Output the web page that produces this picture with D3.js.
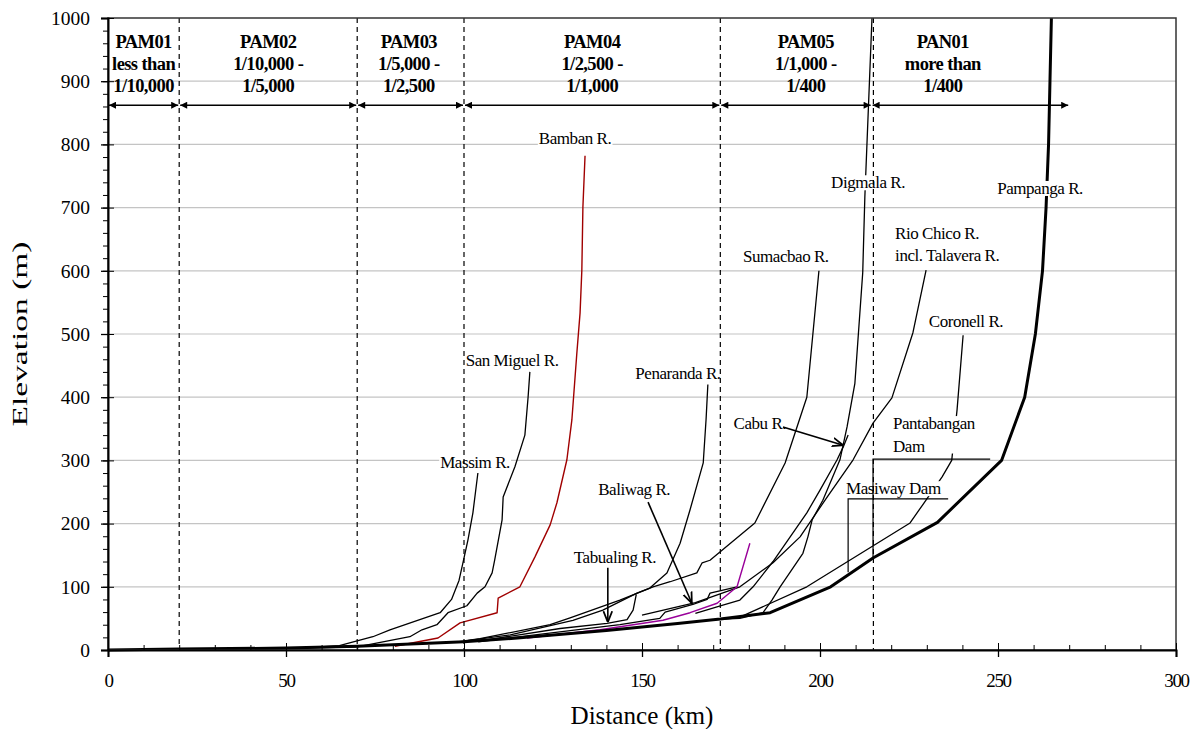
<!DOCTYPE html>
<html><head><meta charset="utf-8">
<script src="https://cdn.jsdelivr.net/npm/d3@7"></script>
<style>
body{margin:0;background:#fff;}
text{font-family:"Liberation Serif","Times New Roman",serif;}
</style></head>
<body><svg id="c" width="1202" height="729"></svg>
<script>
// ---------------- DATA ----------------
const xTicks = [0, 50, 100, 150, 200, 250, 300];
const yTicks = [0, 100, 200, 300, 400, 500, 600, 700, 800, 900, 1000];

const zoneBounds = [0, 20, 70, 100, 172, 214.5, 270];
const zoneCenters = [10, 45, 84.5, 136, 196, 234.5];
const zoneNames = ["PAM01", "PAM02", "PAM03", "PAM04", "PAM05", "PAN01"];
const zoneLine2 = ["less than", "1/10,000 -", "1/5,000 -", "1/2,500 -", "1/1,000 -", "more than"];
const zoneLine3 = ["1/10,000", "1/5,000", "1/2,500", "1/1,000", "1/400", "1/400"];
const zoneDashes = [20, 70, 100, 172, 215];

const pampanga = [[0,0],[20,1.5],[50,3],[70,6],[100,13],[115,19],[140,31],[160,42],[172,49],[186,59],[203,100],[215,146],[233,202],[251,300],[257.5,400],[260.5,500],[262.5,600],[263.5,700],[264.2,800],[264.6,900],[265,1000]];
const massim = [[54,3],[65,7],[74.4,21],[79.2,32],[93.3,59],[96.5,80],[98.6,110],[99.7,138],[101.1,174],[102.5,217],[103.9,280]];
const sanMiguel = [[55,3],[70,5],[84.8,21],[88.2,32],[92.4,40],[95.5,59],[100.8,70],[103.7,90],[105.9,100],[107.9,122],[108.6,142],[110.7,206],[111,242],[114.3,290],[117.1,340],[118,400],[118.5,440]];
const bamban = [[80.6,6],[92.7,19],[98.9,43],[109.3,59],[109.6,82],[115.7,100],[119.9,147],[124.2,198],[126.1,233],[128.9,301],[130.3,364],[131.7,470],[132.6,533],[133.1,601],[133.4,701],[134,782]];
const sumacbao = [[98,13],[104.5,18],[124.2,40],[129.8,51],[143.8,79],[153.1,100],[157.9,108],[165.4,122],[166.9,138],[169.1,142],[181.7,201],[190.2,296],[196.3,400],[199.7,600]];
const penaranda = [[100,14],[113,24],[130.6,47],[139,63],[148.6,90],[152.2,98],[157,122],[160.7,169],[163.5,222],[167.2,296],[168,365],[168.5,420]];
const tabualing = [[104,14],[127,34],[140.2,42],[145.8,48],[147.5,63],[148.4,88]];
const baliwag = [[104,13],[143.8,40],[155,50],[156.5,60],[164.3,72],[168.3,80],[169.1,90],[176.7,100]];
const purpleRiver = [[117.7,19],[138.2,32],[155.9,47],[163.5,59],[171.1,74],[176.7,100],[180.3,169]];
const cabu = [[165,58],[172,70],[177.5,79],[181.2,100],[186.8,140],[196.3,217],[200,253],[204.8,301],[206.5,321],[207.9,340]];
const rioChico = [[150,55],[165,75],[177.5,100],[186.8,138],[194.4,179],[202,242],[209.3,301],[214.9,359],[220.2,399],[226.1,502],[229.8,601]];
const digmala = [[170,48],[177.5,50],[184,59],[186.5,79],[188.8,100],[195.2,153],[196.6,179],[197.8,206],[200.8,237],[205.6,301],[207.6,353],[209.8,422],[212,597],[212.6,717],[214.6,1000]];
const coronell = [[172,49],[177.5,52],[196.3,100],[225.3,201],[229,231],[234.3,274],[237,300],[238.5,380],[240.2,498]];

const riverLabels = [
  {t:["Bamban R."], x:131.2, y:810, a:"middle"},
  {t:["San Miguel R."], x:113.5, y:459, a:"middle"},
  {t:["Massim R."], x:103.1, y:297, a:"middle"},
  {t:["Penaranda R."], x:160.1, y:438, a:"middle"},
  {t:["Baliwag R."], x:147.8, y:255, a:"middle"},
  {t:["Tabualing R."], x:142.4, y:147, a:"middle"},
  {t:["Cabu R."], x:183.1, y:359, a:"middle"},
  {t:["Sumacbao R."], x:190.4, y:623, a:"middle"},
  {t:["Digmala R."], x:213.5, y:740, a:"middle"},
  {t:["Rio Chico R.", "incl. Talavera R."], x:221.1, y:660, a:"start"},
  {t:["Coronell R."], x:241, y:520, a:"middle"},
  {t:["Pantabangan", "Dam"], x:220.5, y:359, a:"start"},
  {t:["Masiway Dam"], x:207.3, y:256, a:"start"},
  {t:["Pampanga R."], x:261.8, y:731, a:"middle"}
];
const callouts = [
  [[140.4,130],[140.4,44]],
  [[151.7,234],[164,74]],
  [[189.6,353],[206.5,324]]
];
const brackets = [
  [[236,239],[207.9,239],[207.9,123]],
  [[247.8,302],[214.9,302],[214.9,146]]
];

// ---------------- DRAW ----------------
const svg = d3.select("#c");
const L = 108, R = 1176, T = 18, B = 650;
const x = d3.scaleLinear([0,300],[L,R]);
const y = d3.scaleLinear([0,1000],[B,T]);

const defs = svg.append("defs");
defs.append("marker").attr("id","ah").attr("viewBox","0 0 10 10").attr("refX",10).attr("refY",5)
  .attr("markerWidth",8).attr("markerHeight",7).attr("markerUnits","userSpaceOnUse").attr("orient","auto-start-reverse")
  .append("path").attr("d","M0,0L10,5L0,10z").attr("fill","#000");
defs.append("marker").attr("id","oa").attr("viewBox","0 0 10 10").attr("refX",10).attr("refY",5)
  .attr("markerWidth",11).attr("markerHeight",11).attr("markerUnits","userSpaceOnUse").attr("orient","auto")
  .append("path").attr("d","M0,1L10,5L0,9").attr("fill","none").attr("stroke","#000").attr("stroke-width",1.6);

// grid
svg.append("g").selectAll("line").data(yTicks.filter(v=>v>0&&v<1000)).join("line")
  .attr("x1",L).attr("x2",R).attr("y1",d=>y(d)).attr("y2",d=>y(d))
  .attr("stroke","#c4c4c4").attr("stroke-width",1.2);

// rivers
const line = d3.line().x(d=>x(d[0])).y(d=>y(d[1]));
const rivers = [
  {d:massim,c:"#000",w:1.3},{d:sanMiguel,c:"#000",w:1.3},{d:bamban,c:"#a00000",w:1.4},
  {d:sumacbao,c:"#000",w:1.3},{d:penaranda,c:"#000",w:1.3},{d:tabualing,c:"#000",w:1.3},
  {d:baliwag,c:"#000",w:1.3},{d:cabu,c:"#000",w:1.3},{d:rioChico,c:"#000",w:1.3},
  {d:digmala,c:"#000",w:1.3},{d:coronell,c:"#000",w:1.3},{d:purpleRiver,c:"#990099",w:1.4},
  {d:pampanga,c:"#000",w:3}
];
svg.append("g").selectAll("path").data(rivers).join("path")
  .attr("d",r=>line(r.d)).attr("fill","none").attr("stroke",r=>r.c).attr("stroke-width",r=>r.w)
  .attr("stroke-linejoin","round");

// river labels with white background
const lg = svg.append("g");
riverLabels.forEach(l=>{
  const g = lg.append("g");
  const t = g.append("text").attr("x",x(l.x)).attr("y",y(l.y)).attr("text-anchor",l.a)
    .attr("font-size",17).attr("letter-spacing","-0.45").attr("fill","#000");
  l.t.forEach((s,i)=>t.append("tspan").attr("x",x(l.x)).attr("dy",i===0?"0.35em":"1.32em").text(s));
  const bb = t.node().getBBox();
  g.insert("rect","text").attr("x",bb.x-1).attr("y",bb.y+2).attr("width",bb.width+2).attr("height",bb.height-4).attr("fill","#fff");
});

// zone dashed lines
svg.append("g").selectAll("line").data(zoneDashes).join("line")
  .attr("x1",d=>x(d)).attr("x2",d=>x(d)).attr("y1",T).attr("y2",B)
  .attr("stroke","#000").attr("stroke-width",1.2).attr("stroke-dasharray","5,4");

// callout arrows
svg.append("g").selectAll("path").data(callouts).join("path")
  .attr("d",d=>line(d)).attr("fill","none").attr("stroke","#000").attr("stroke-width",1.6)
  .attr("marker-end","url(#oa)");
// dam brackets
svg.append("g").selectAll("path").data(brackets).join("path")
  .attr("d",d=>line(d)).attr("fill","none").attr("stroke","#000").attr("stroke-width",1.2);

// zone arrows
const arrowY = 862;
const zg = svg.append("g");
for(let i=0;i<zoneBounds.length-1;i++){
  zg.append("line").attr("x1",x(zoneBounds[i])+1).attr("x2",x(zoneBounds[i+1])-1)
    .attr("y1",y(arrowY)).attr("y2",y(arrowY)).attr("stroke","#000").attr("stroke-width",1.4)
    .attr("marker-start","url(#ah)").attr("marker-end","url(#ah)");
}
// zone text
const zt = svg.append("g").attr("font-weight","bold").attr("font-size",18.5).attr("text-anchor","middle").attr("letter-spacing","-0.6");
zoneNames.forEach((n,i)=>{
  const cx = x(zoneCenters[i]);
  zt.append("text").attr("x",cx).attr("y",48).text(n);
  zt.append("text").attr("x",cx).attr("y",70).text(zoneLine2[i]);
  zt.append("text").attr("x",cx).attr("y",92).text(zoneLine3[i]);
});

// frame
svg.append("rect").attr("x",L).attr("y",T).attr("width",R-L).attr("height",B-T)
  .attr("fill","none").attr("stroke","#333").attr("stroke-width",1.5);

// axes
const axL = svg.append("g").attr("transform",`translate(${L},0)`)
  .call(d3.axisLeft(y).tickValues(yTicks).tickFormat(d3.format("d")).tickSize(7).tickPadding(11));
axL.selectAll("text").attr("font-size",19.5).attr("font-family","Liberation Serif").attr("fill","#000");
axL.select(".domain").attr("stroke-width",2);
axL.selectAll(".tick line").attr("stroke-width",1.3);
svg.append("g").attr("transform",`translate(${L},0)`)
  .call(d3.axisRight(y).tickValues(yTicks).tickSize(6).tickFormat(""))
  .call(g=>g.select(".domain").remove());
svg.append("g").attr("transform",`translate(${L},0)`)
  .call(d3.axisLeft(y).tickValues(d3.range(0,1001,20)).tickSize(5).tickFormat(""))
  .call(g=>g.select(".domain").remove());

const axB = svg.append("g").attr("transform",`translate(0,${B})`)
  .call(d3.axisBottom(x).tickValues(xTicks).tickFormat(d3.format("d")).tickSize(7).tickPadding(17));
axB.selectAll("text").attr("font-size",19).attr("font-family","Liberation Serif").attr("letter-spacing","-1.3").attr("fill","#000");
axB.select(".domain").attr("stroke-width",2);
axB.selectAll(".tick line").attr("stroke-width",1.3);
svg.append("g").attr("transform",`translate(0,${B})`)
  .call(d3.axisTop(x).tickValues(xTicks).tickSize(7).tickFormat(""))
  .call(g=>g.select(".domain").remove());
svg.append("g").attr("transform",`translate(0,${B})`)
  .call(d3.axisTop(x).tickValues(d3.range(0,301,10)).tickSize(5).tickFormat(""))
  .call(g=>g.select(".domain").remove());

// titles
svg.append("text").attr("x",(L+R)/2).attr("y",724).attr("text-anchor","middle")
  .attr("font-size",26).attr("textLength",143).attr("lengthAdjust","spacingAndGlyphs").text("Distance (km)");
svg.append("text").attr("transform",`translate(27,${(T+B)/2}) rotate(-90)`).attr("text-anchor","middle")
  .attr("font-size",21).attr("textLength",185).attr("lengthAdjust","spacingAndGlyphs").text("Elevation  (m)");
</script></body></html>
